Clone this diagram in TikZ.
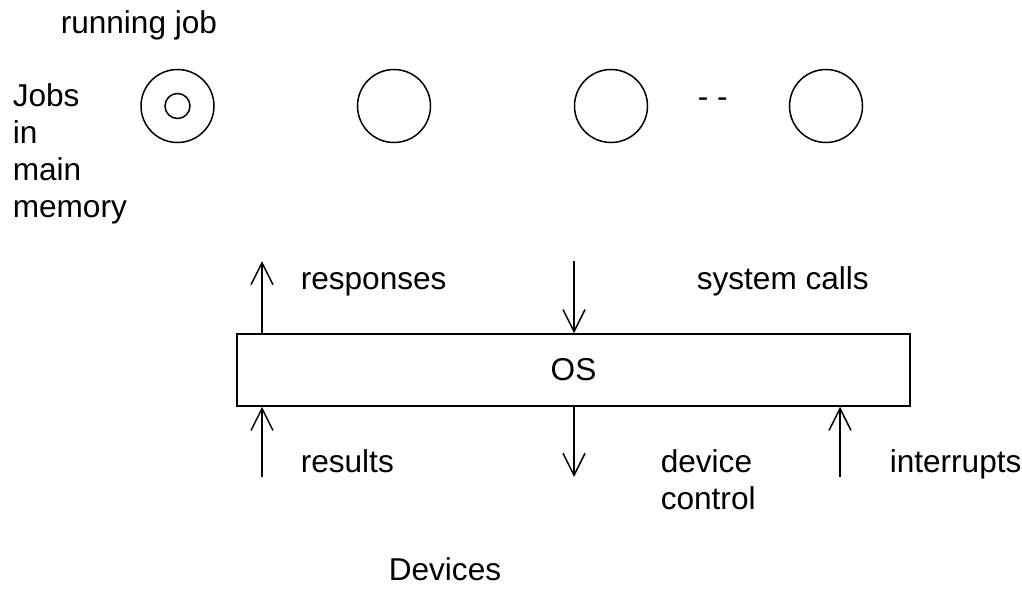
\documentclass[tikz,border=0pt]{standalone}
\usepackage{fontspec}
\setmainfont{Liberation Sans}
\usetikzlibrary{arrows.meta}
\begin{document}
\begin{tikzpicture}[x=1pt,y=-1pt,
  line width=1.5pt,
  every node/.style={font=\fontsize{31.6}{37}\selectfont, inner sep=0pt},
  lbl/.style={anchor=base west},
  job/.style={circle, draw, minimum size=73pt},
  cur/.style={circle, draw, minimum size=25pt},
  osbox/.style={rectangle, draw, minimum width=673pt, minimum height=72pt},
  flow/.style={-{Straight Barb[length=22pt,width=22pt]}}
]
\useasboundingbox (0,0) rectangle (1022,590);

% jobs held in main memory
\node[lbl] (running) at (60,33) {running job};
\node[lbl] (jobs) at (12,106) {\begin{tabular}[t]{@{}l@{}}Jobs\\in\\main\\memory\end{tabular}};
\node[job] (j1) at (177.5,106) {};
\node[cur] (j1in) at (177.5,106) {};
\node[job] (j2) at (394,106) {};
\node[job] (j3) at (611,106) {};
\node[lbl] (more) at (697,107) {- -};
\node[job] (j4) at (826,106) {};

% operating system layer
\node[osbox] (os) at (573.5,370) {OS};

% free ends of the connectors
\coordinate (respEnd) at (262,261);
\coordinate (callStart) at (574,261);
\coordinate (resStart) at (262,477);
\coordinate (ctrlEnd) at (574,477);
\coordinate (intStart) at (840,477);

\draw[flow] (os.north -| respEnd) -- (respEnd);
\draw[flow] (callStart) -- (os.north -| callStart);
\draw[flow] (resStart) -- (os.south -| resStart);
\draw[flow] (os.south -| ctrlEnd) -- (ctrlEnd);
\draw[flow] (intStart) -- (os.south -| intStart);

% connector labels
\node[lbl] (responses) at (300,289) {responses};
\node[lbl] (syscalls) at (696,289) {system calls};
\node[lbl] (results) at (300,472) {results};
\node[lbl] (devctl) at (660,472) {\begin{tabular}[t]{@{}l@{}}device\\control\end{tabular}};
\node[lbl] (interrupts) at (889,472) {interrupts};

% device layer
\node[lbl] (devices) at (388,580) {Devices};
\end{tikzpicture}
\end{document}
